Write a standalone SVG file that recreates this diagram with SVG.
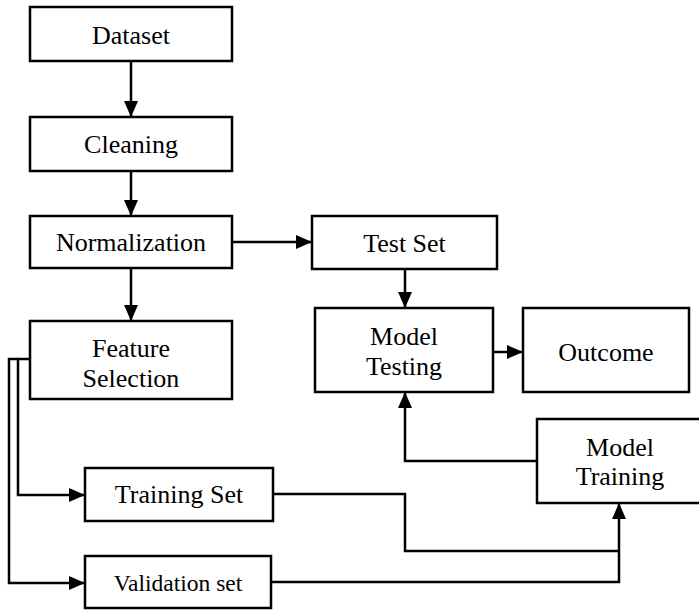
<svg xmlns="http://www.w3.org/2000/svg" width="699" height="610" viewBox="0 0 699 610">
<style>
.box{fill:#fff;stroke:#000;stroke-width:2.5}
.t{font-family:"Liberation Serif","Times New Roman",serif;font-size:26px;fill:#000;text-anchor:middle}
.c{fill:none;stroke:#000;stroke-width:2.5}
</style>
<defs>
<marker id="ah" markerUnits="userSpaceOnUse" markerWidth="16" markerHeight="14" refX="16" refY="7" orient="auto">
<path d="M0,0 L16,7 L0,14 Z" fill="#000"/>
</marker>
</defs>
<g id="connectors">
<path class="c" d="M131,61 V117" marker-end="url(#ah)"/>
<path class="c" d="M131,171 V216" marker-end="url(#ah)"/>
<path class="c" d="M131,268 V321" marker-end="url(#ah)"/>
<path class="c" d="M232,242 H312" marker-end="url(#ah)"/>
<path class="c" d="M405,269 V308" marker-end="url(#ah)"/>
<path class="c" d="M493,352 H523" marker-end="url(#ah)"/>
<path class="c" d="M537,461 H405 V392" marker-end="url(#ah)"/>
<path class="c" d="M30,359 H18 V495 H85" marker-end="url(#ah)"/>
<path class="c" d="M18,359 H9 V583 H85" marker-end="url(#ah)"/>
<path class="c" d="M273,494 H405 V551 H619"/>
<path class="c" d="M271,582 H619 V503" marker-end="url(#ah)"/>
</g>
<g id="dataset"><rect class="box" x="30" y="7" width="202" height="54"/><text class="t" x="131" y="44">Dataset</text></g>
<g id="cleaning"><rect class="box" x="30" y="117" width="202" height="54"/><text class="t" x="131" y="153">Cleaning</text></g>
<g id="normalization"><rect class="box" x="30" y="216" width="202" height="52"/><text class="t" x="131" y="251">Normalization</text></g>
<g id="feature-selection"><rect class="box" x="30" y="321" width="202" height="78"/><text class="t" x="131" y="357">Feature</text><text class="t" x="131" y="387">Selection</text></g>
<g id="training-set"><rect class="box" x="85" y="468" width="188" height="53"/><text class="t" x="179" y="503">Training Set</text></g>
<g id="validation-set"><rect class="box" x="85" y="556" width="186" height="52"/><text class="t" x="178" y="591" style="font-size:23.5px">Validation set</text></g>
<g id="test-set"><rect class="box" x="312" y="216" width="185" height="53"/><text class="t" x="404.5" y="252">Test Set</text></g>
<g id="model-testing"><rect class="box" x="315" y="308" width="178" height="84"/><text class="t" x="404" y="345">Model</text><text class="t" x="404" y="375">Testing</text></g>
<g id="outcome"><rect class="box" x="523" y="308" width="166" height="84"/><text class="t" x="606" y="361">Outcome</text></g>
<g id="model-training"><rect class="box" x="537" y="419" width="170" height="84"/><text class="t" x="620" y="456">Model</text><text class="t" x="620" y="485">Training</text></g>
</svg>
